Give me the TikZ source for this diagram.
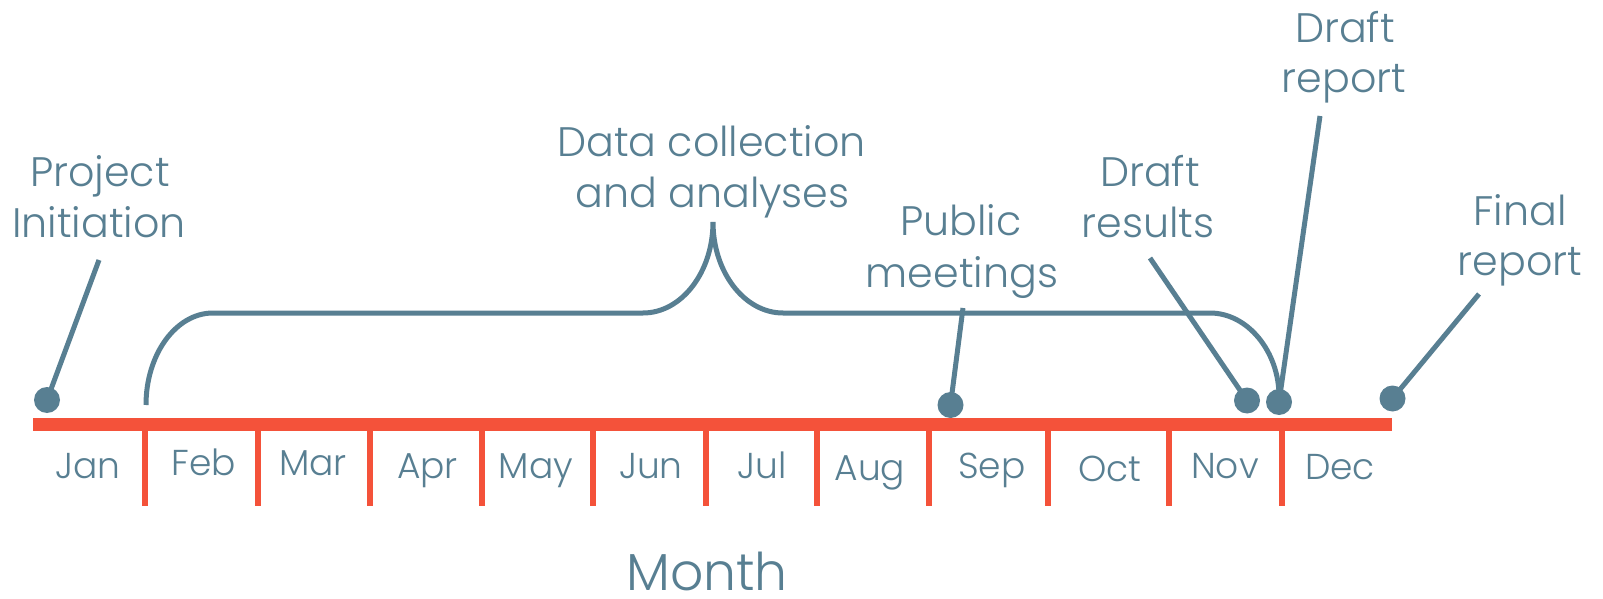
\documentclass[tikz,border=0pt]{standalone}
\usepackage{fontspec}
\IfFontExistsTF{Poppins Light}{\setmainfont{Poppins Light}}{\setmainfont{Poppins}}
\definecolor{tlblue}{HTML}{587F92}
\definecolor{tlred}{HTML}{F4523A}
\tikzset{
  lbl/.style={anchor=base, inner sep=0pt, text=tlblue, font=\fontsize{20.6}{24}\selectfont},
  mon/.style={anchor=base, inner sep=0pt, text=tlblue, font=\fontsize{18}{20}\selectfont},
  bigl/.style={anchor=base, inner sep=0pt, text=tlblue, font=\fontsize{26}{30}\selectfont},
  axisline/.style={draw=tlred, line width=6.5pt},
  tickline/.style={draw=tlred, line width=3pt},
  conn/.style={draw=tlblue, line width=2.5pt},
  dot/.style={circle, fill=tlblue, inner sep=0pt, minimum size=13pt},
  bracepath/.style={draw=tlblue, line width=2.5pt},
}
\begin{document}
\begin{tikzpicture}[x=0.5pt,y=-0.5pt]
\fill[white] (0,0) rectangle (1603,599);
\useasboundingbox (0,0) rectangle (1603,599);
% axis
\coordinate (axL) at (33,424.5);
\coordinate (axR) at (1392,424.5);
\draw[axisline] (axL) -- (axR);
\foreach \x [count=\i] in {145,257.5,370,481.7,593,705.7,817.3,929.3,1048.3,1169.3,1281.7}{
  \coordinate (tt\i) at (\x,424);
  \coordinate (tb\i) at (\x,506);
  \draw[tickline] (tt\i) -- (tb\i);
}
% month labels
\node[mon] (jan) at (88,478) {Jan};
\node[mon] (feb) at (204,475) {Feb};
\node[mon] (mar) at (313,475) {Mar};
\node[mon] (apr) at (427.5,478) {Apr};
\node[mon] (may) at (536,478) {May};
\node[mon] (jun) at (651,478) {Jun};
\node[mon] (jul) at (762,478) {Jul};
\node[mon] (aug) at (870,480) {Aug};
\node[mon] (sep) at (992,478) {Sep};
\node[mon] (oct) at (1110,481) {Oct};
\node[mon] (nov) at (1225,478) {Nov};
\node[mon] (dec) at (1340,479) {Dec};
\node[bigl] (month) at (707,590) {Month};
% annotation labels
\node[lbl] (pi1) at (100,187) {Project};
\node[lbl] (pi2) at (99,237) {Initiation};
\node[lbl] (dc1) at (711.5,157) {Data collection};
\node[lbl] (dc2) at (712.5,208) {and analyses};
\node[lbl] (pm1) at (961,235) {Public};
\node[lbl] (pm2) at (962,287) {meetings};
\node[lbl] (dr1) at (1150,187) {Draft};
\node[lbl] (dr2) at (1148,237) {results};
\node[lbl] (dp1) at (1345,43) {Draft};
\node[lbl] (dp2) at (1344,93) {report};
\node[lbl] (fr1) at (1520,226) {Final};
\node[lbl] (fr2) at (1520,276) {report};
% dots
\node[dot] (dPI) at (47,400) {};
\node[dot] (dPM) at (950.5,405) {};
\node[dot] (dDR) at (1247,400.5) {};
\node[dot] (dDP) at (1279,402) {};
\node[dot] (dFR) at (1392.5,398.5) {};
% connector tops
\coordinate (cPI) at (99,260);
\coordinate (cPM) at (963,308);
\coordinate (cDR) at (1150,258);
\coordinate (cDP) at (1320,116);
\coordinate (cFR) at (1479,294);
% brace
\coordinate (bStart) at (146,405);
\coordinate (bPeak) at (713,222);
\coordinate (bEnd) at (1279,396);
\draw[bracepath] (bStart) .. controls (146,354.2) and (176,313) .. (213,313)
  -- (643,313) .. controls (681.6,313) and (713,272.2) .. (bPeak)
  .. controls (713,272.2) and (744.4,313) .. (783,313)
  -- (1210,313) .. controls (1248,313) and (1279,352) .. (bEnd);
% connectors
\draw[conn] (cPI) -- (dPI.center);
\draw[conn] (cPM) -- (dPM.center);
\draw[conn] (cDR) -- (dDR.center);
\draw[conn] (cDP) -- (dDP.center);
\draw[conn] (cFR) -- (dFR.center);
\end{tikzpicture}
\end{document}
